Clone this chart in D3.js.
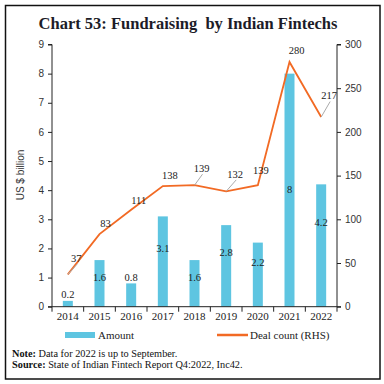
<!DOCTYPE html>
<html><head><meta charset="utf-8">
<script src="https://cdn.jsdelivr.net/npm/d3@7/dist/d3.min.js"></script>
<style>body{margin:0;background:#fff}svg{display:block}</style>
</head><body>
<svg id="c" width="384" height="384"></svg>
<script>
// ---- data ----
const years = ["2014","2015","2016","2017","2018","2019","2020","2021","2022"];
const amount = [0.2, 1.6, 0.8, 3.1, 1.6, 2.8, 2.2, 8, 4.2];
const dealCount = [37, 83, 111, 138, 139, 132, 139, 280, 217];
const leftTicks = [0,1,2,3,4,5,6,7,8,9];
const rightTicks = [0,50,100,150,200,250,300];

// ---- layout (label placement, px) ----
const barLabelDy = [-6.6, 17, -6, 32, 17, 27, 20, 115.6, 38];
const lineLabelOff = [[8.5,-16.5],[6,-11],[7.5,-9],[7,-10.5],[7,-17],[9,-17.4],[3,-14.6],[7,-12],[8,-21.5]];
const leader = [true,false,false,false,true,true,false,false,true];

const svg = d3.select("#c");
const m = {l:52, r:337, t:44.5, b:306.7};
const serif = "'Liberation Serif','DejaVu Serif',serif";
const sans = "'Liberation Sans','DejaVu Sans',sans-serif";
const barColor = "#5ec5e1", lineColor = "#f26a24";

svg.append("rect").attr("x",5.5).attr("y",5.5).attr("width",374.5).attr("height",373.5)
  .attr("fill","#fff").attr("stroke","#111").attr("stroke-width",1.5);

svg.append("text").attr("x",188).attr("y",29).attr("text-anchor","middle")
  .attr("font-family",serif).attr("font-weight","bold").attr("font-size",16.5).attr("fill","#1c1c28")
  .attr("xml:space","preserve").text("Chart 53: Fundraising  by Indian Fintechs");

const x = d3.scaleBand().domain(years).range([m.l, m.r]).padding(0);
const yL = d3.scaleLinear().domain([0,9]).range([m.b, m.t]);
const yR = d3.scaleLinear().domain([0,300]).range([m.b, m.t]);
const bw = 10;

// bars
svg.append("g").selectAll("rect").data(years).join("rect")
  .attr("x", d => x(d) + x.bandwidth()/2 - bw/2)
  .attr("width", bw)
  .attr("y", (d,i) => yL(amount[i]))
  .attr("height", (d,i) => yL(0) - yL(amount[i]))
  .attr("fill", barColor);

// axes
const axL = svg.append("g").attr("transform",`translate(${m.l},0)`)
  .call(d3.axisLeft(yL).tickValues(leftTicks).tickSize(4).tickPadding(4).tickFormat(d3.format("d")));
const axR = svg.append("g").attr("transform",`translate(${m.r},0)`)
  .call(d3.axisRight(yR).tickValues(rightTicks).tickSize(4).tickPadding(4).tickFormat(d3.format("d")));
const axB = svg.append("g").attr("transform",`translate(0,${m.b})`)
  .call(d3.axisBottom(x).tickSize(0).tickPadding(6));
[axL, axR].forEach(a => {
  a.selectAll("path,line").attr("stroke","#222").attr("stroke-width",1);
  a.selectAll("text").attr("font-family",sans).attr("font-size",10).attr("fill","#333");
});
axL.select(".domain").attr("d",`M-4,${m.t}H0V${m.b}H-4`);
axR.select(".domain").attr("d",`M4,${m.t}H0V${m.b}H4`);
axB.select(".domain").attr("stroke","#222").attr("d",`M${m.l},0H${m.r}`);
axB.selectAll("text").attr("font-family",serif).attr("font-size",11).attr("fill","#222");
// boundary ticks
const bounds = years.map(d => x(d)).concat([m.r]);
svg.append("g").selectAll("line").data(bounds).join("line")
  .attr("x1", d => d).attr("x2", d => d).attr("y1", m.b).attr("y2", m.b + 5)
  .attr("stroke","#222");

// y title
svg.append("text").attr("transform",`translate(24,175) rotate(-90)`).attr("text-anchor","middle")
  .attr("font-family",sans).attr("font-size",10).attr("fill","#333").text("US $ billion");

// bar labels
svg.append("g").selectAll("text").data(years).join("text")
  .attr("x", d => x(d) + x.bandwidth()/2)
  .attr("y", (d,i) => yL(amount[i]) + barLabelDy[i])
  .attr("dy","0.35em").attr("text-anchor","middle")
  .attr("font-family",serif).attr("font-size",10.5).attr("fill","#222")
  .text((d,i) => amount[i]);

// line
const pts = years.map((d,i) => [x(d) + x.bandwidth()/2, yR(dealCount[i])]);
svg.append("path").attr("d", d3.line()(pts)).attr("fill","none")
  .attr("stroke", lineColor).attr("stroke-width", 1.8);

// line labels with leaders
const lg = svg.append("g");
pts.forEach((p,i) => {
  const lx = p[0] + lineLabelOff[i][0], ly = p[1] + lineLabelOff[i][1];
  if (leader[i]) {
    lg.append("line").attr("x1",p[0]).attr("y1",p[1]).attr("x2",lx+1).attr("y2",ly+6)
      .attr("stroke","#aaa").attr("stroke-width",1);
  }
  lg.append("text").attr("x",lx).attr("y",ly).attr("dy","0.35em").attr("text-anchor","middle")
    .attr("font-family",serif).attr("font-size",10.5).attr("fill","#222").text(dealCount[i]);
});

// legend
svg.append("rect").attr("x",65).attr("y",332).attr("width",30).attr("height",6).attr("fill",barColor);
svg.append("text").attr("x",98).attr("y",339).attr("font-family",serif).attr("font-size",11).attr("fill","#222").text("Amount");
svg.append("line").attr("x1",217).attr("x2",248).attr("y1",335).attr("y2",335).attr("stroke",lineColor).attr("stroke-width",2.5);
svg.append("text").attr("x",250).attr("y",339).attr("font-family",serif).attr("font-size",11).attr("fill","#222").text("Deal count (RHS)");

// notes
const n1 = svg.append("text").attr("x",12).attr("y",357).attr("font-family",serif).attr("font-size",10.3).attr("fill","#111");
n1.append("tspan").attr("font-weight","bold").text("Note:");
n1.append("tspan").text(" Data for 2022 is up to September.");
const n2 = svg.append("text").attr("x",12).attr("y",368).attr("font-family",serif).attr("font-size",10.3).attr("fill","#111");
n2.append("tspan").attr("font-weight","bold").text("Source:");
n2.append("tspan").text(" State of Indian Fintech Report Q4:2022, Inc42.");
</script>
</body></html>
